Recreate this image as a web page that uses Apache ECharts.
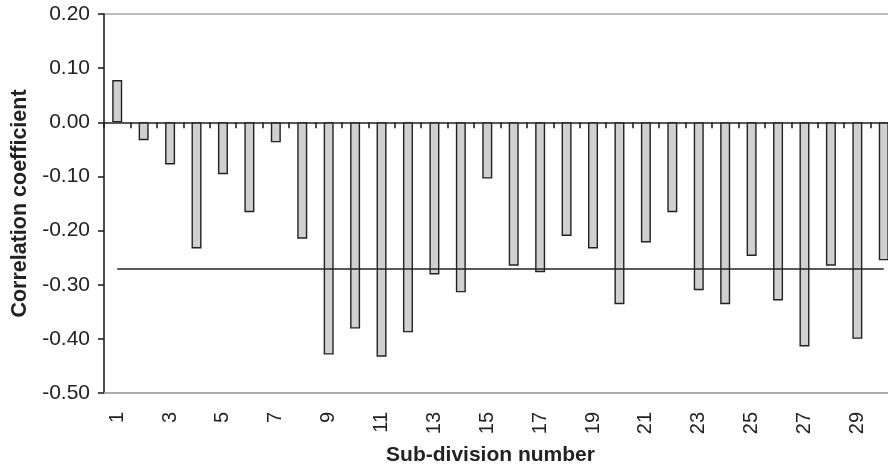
<!DOCTYPE html>
<html>
<head>
<meta charset="utf-8">
<script src="https://cdn.jsdelivr.net/npm/echarts@6/dist/echarts.min.js"></script>
<style>
html,body{margin:0;padding:0;background:#fff;}
#chart{width:888px;height:468px;}
</style>
</head>
<body>
<div id="chart"></div>
<script>
const categories = ['1','2','3','4','5','6','7','8','9','10','11','12','13','14','15','16','17','18','19','20','21','22','23','24','25','26','27','28','29','30'];
const correlation = [0.078, -0.033, -0.078, -0.233, -0.096, -0.166, -0.037, -0.215, -0.429, -0.381, -0.433, -0.388, -0.281, -0.314, -0.104, -0.265, -0.277, -0.210, -0.233, -0.336, -0.222, -0.166, -0.310, -0.336, -0.247, -0.329, -0.414, -0.265, -0.400, -0.255];
const thresholdValue = -0.27;
const yTicks = [-0.5, 0.2, 0.1];
const xTitle = 'Sub-division number';
const yTitle = 'Correlation coefficient';

const chart = echarts.init(document.getElementById('chart'), null, {renderer:'canvas'});
const font = 'Liberation Sans, Arial, Helvetica, sans-serif';
const ink = '#222';
const gray = '#a8a8a8';
const none = 'rgba(0,0,0,0)';

chart.setOption({
  animation: false,
  backgroundColor: '#fff',
  grid: {left: 104, top: 14, bottom: 75, right: -9, containLabel: false, outerBoundsMode: 'none'},
  xAxis: [
    {
      type: 'category', data: categories, boundaryGap: true,
      axisLine: {onZero: true, lineStyle: {color: ink, width: 1.6}},
      axisTick: {show: true, length: 6, lineStyle: {color: ink, width: 1.6}},
      axisLabel: {show: false},
      splitLine: {show: false}
    },
    {
      type: 'category', data: categories, boundaryGap: true, position: 'bottom',
      axisLine: {onZero: false, lineStyle: {color: gray, width: 1.5}},
      axisTick: {show: false},
      axisLabel: {show: true, rotate: 90, interval: 1, margin: 19, fontFamily: font, fontSize: 20, color: ink},
      name: xTitle, nameLocation: 'middle', nameGap: 52,
      nameTextStyle: {fontFamily: font, fontSize: 21, fontWeight: 'bold', color: ink, padding: [0, 20, 0, 0]}
    }
  ],
  yAxis: {
    type: 'value', min: yTicks[0], max: yTicks[1], interval: yTicks[2],
    axisLine: {show: true, lineStyle: {color: ink, width: 1.6}},
    axisTick: {show: true, length: 6, lineStyle: {color: ink, width: 1.6}},
    axisLabel: {margin: 14, fontFamily: font, fontSize: 21, color: ink, formatter: v => v.toFixed(2)},
    splitLine: {show: true, lineStyle: {color: [gray, none, none, none, none, none, none, gray], width: 1.5}},
    name: yTitle, nameLocation: 'middle', nameGap: 70, nameRotate: 90,
    nameTextStyle: {fontFamily: font, fontSize: 21.5, fontWeight: 'bold', color: ink}
  },
  series: [{
    type: 'bar', xAxisIndex: 0, data: correlation, barWidth: 10,
    itemStyle: {color: '#d0d0d0', borderColor: ink, borderWidth: 1.4},
    markLine: {
      silent: true, symbol: 'none', label: {show: false},
      lineStyle: {color: ink, width: 1.6, type: 'solid'},
      data: [[{coord: [categories[0], thresholdValue]}, {coord: [categories[categories.length - 1], thresholdValue]}]]
    }
  }]
});
</script>
</body>
</html>
